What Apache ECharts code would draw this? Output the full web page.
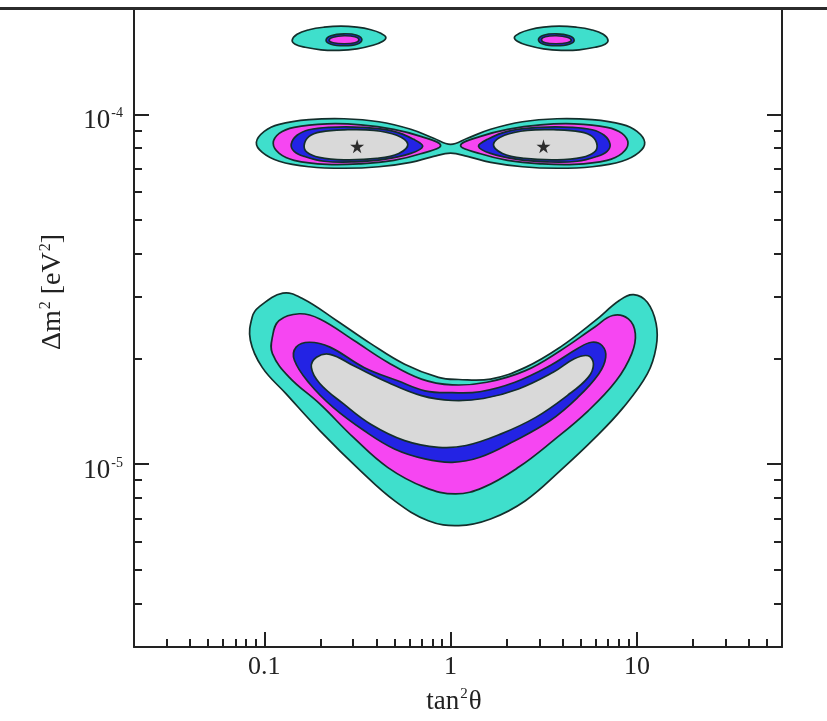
<!DOCTYPE html>
<html><head><meta charset="utf-8">
<script src="https://cdn.jsdelivr.net/npm/echarts@6/dist/echarts.min.js"></script>
<style>html,body{margin:0;padding:0;background:#fff}#chart{width:827px;height:721px}</style>
</head><body><div id="chart"></div>
<script>
// ---- axis ranges & ticks ----
const xRange = [0.02, 60];
const yRange = [3e-6, 2e-4];
const xMajorTicks = [0.1, 1, 10];
const xMajorLabels = ['0.1', '1', '10'];
const xMinorTicks = [0.03,0.04,0.05,0.06,0.07,0.08,0.09,0.2,0.3,0.4,0.5,0.6,0.7,0.8,0.9,2,3,4,5,6,7,8,9,20,30,40,50];
const yMajorTicks = [1e-5, 1e-4];
const yMajorExps = ['-5', '-4'];
const yMinorTicks = [4e-6,5e-6,6e-6,7e-6,8e-6,9e-6,2e-5,3e-5,4e-5,5e-5,6e-5,7e-5,8e-5,9e-5];

// ---- best-fit points (tan^2 theta, dm^2) ----
const bestFits = [[0.315, 8.1e-5], [3.15, 8.1e-5]];

// ---- contour boundaries: [tan^2 theta, dm^2 (eV^2)] ----
// upper islands
const islandL_3s = [[0.1412,1.628e-4],[0.150,1.694e-4],[0.174,1.745e-4],[0.2094,1.774e-4],[0.258,1.786e-4],[0.314,1.774e-4],[0.3734,1.745e-4],[0.4223,1.705e-4],[0.449,1.661e-4],[0.433,1.618e-4],[0.3827,1.575e-4],[0.314,1.539e-4],[0.252,1.524e-4],[0.2018,1.529e-4],[0.1657,1.555e-4],[0.1465,1.586e-4]];
const islandR_3s = [[6.99,1.628e-4],[6.59,1.694e-4],[5.68,1.745e-4],[4.72,1.774e-4],[3.83,1.786e-4],[3.15,1.774e-4],[2.65,1.745e-4],[2.34,1.705e-4],[2.20,1.661e-4],[2.28,1.618e-4],[2.58,1.575e-4],[3.15,1.539e-4],[3.92,1.524e-4],[4.90,1.529e-4],[5.96,1.555e-4],[6.74,1.586e-4]];
const islandL_95 = [[0.2146,1.628e-4],[0.228,1.677e-4],[0.268,1.699e-4],[0.314,1.683e-4],[0.334,1.634e-4],[0.314,1.586e-4],[0.268,1.570e-4],[0.228,1.586e-4]];
const islandR_95 = [[4.60,1.628e-4],[4.33,1.677e-4],[3.69,1.699e-4],[3.15,1.683e-4],[2.96,1.634e-4],[3.15,1.586e-4],[3.69,1.570e-4],[4.33,1.586e-4]];
const islandL_99 = [[0.2227,1.628e-4],[0.234,1.661e-4],[0.268,1.677e-4],[0.3067,1.666e-4],[0.3222,1.634e-4],[0.3067,1.602e-4],[0.268,1.591e-4],[0.234,1.602e-4]];
const islandR_99 = [[4.44,1.628e-4],[4.22,1.661e-4],[3.69,1.677e-4],[3.22,1.666e-4],[3.07,1.634e-4],[3.22,1.602e-4],[3.69,1.591e-4],[4.22,1.602e-4]];

// middle (LMA) band
const band_3s = [[0.0907,8.32e-5],[0.100,8.94e-5],[0.1203,9.36e-5],[0.174,9.65e-5],[0.268,9.71e-5],[0.412,9.52e-5],[0.611,9.06e-5],[0.811,8.54e-5],[1.0,8.2e-5],[1.23,8.54e-5],[1.64,9.06e-5],[2.43,9.52e-5],[3.73,9.71e-5],[5.75,9.65e-5],[8.31,9.36e-5],[10.0,8.94e-5],[11.0,8.32e-5],[10.25,7.78e-5],[8.31,7.34e-5],[5.75,7.08e-5],[3.73,7.01e-5],[2.43,7.08e-5],[1.64,7.29e-5],[1.23,7.58e-5],[1.0,7.74e-5],[0.811,7.58e-5],[0.611,7.29e-5],[0.412,7.08e-5],[0.268,7.01e-5],[0.174,7.08e-5],[0.1203,7.34e-5],[0.0976,7.78e-5]];
const bandL_99 = [[0.1117,8.26e-5],[0.1203,8.82e-5],[0.1447,9.18e-5],[0.2173,9.39e-5],[0.330,9.33e-5],[0.4955,9.06e-5],[0.691,8.65e-5],[0.884,8.15e-5],[0.691,7.71e-5],[0.4955,7.385e-5],[0.330,7.22e-5],[0.2173,7.19e-5],[0.1447,7.385e-5],[0.1203,7.73e-5]];
const bandR_99 = [[8.95,8.26e-5],[8.31,8.82e-5],[6.91,9.18e-5],[4.60,9.39e-5],[3.03,9.33e-5],[2.02,9.06e-5],[1.447,8.65e-5],[1.131,8.15e-5],[1.447,7.71e-5],[2.02,7.385e-5],[3.03,7.22e-5],[4.60,7.19e-5],[6.91,7.385e-5],[8.31,7.73e-5]];
const bandL_95 = [[0.1395,8.21e-5],[0.150,8.71e-5],[0.174,9.03e-5],[0.2227,9.18e-5],[0.330,9.18e-5],[0.4955,8.94e-5],[0.634,8.48e-5],[0.708,8.10e-5],[0.611,7.73e-5],[0.438,7.43e-5],[0.303,7.31e-5],[0.2094,7.34e-5],[0.1637,7.58e-5],[0.1447,7.84e-5]];
const bandR_95 = [[7.17,8.21e-5],[6.67,8.71e-5],[5.75,9.03e-5],[4.49,9.18e-5],[3.03,9.18e-5],[2.02,8.94e-5],[1.577,8.48e-5],[1.412,8.10e-5],[1.637,7.73e-5],[2.28,7.43e-5],[3.30,7.31e-5],[4.78,7.34e-5],[6.11,7.58e-5],[6.91,7.84e-5]];
const bandL_90 = [[0.1637,8.15e-5],[0.174,8.65e-5],[0.2018,8.91e-5],[0.268,9.03e-5],[0.3875,9.00e-5],[0.514,8.71e-5],[0.589,8.21e-5],[0.527,7.73e-5],[0.402,7.48e-5],[0.268,7.41e-5],[0.197,7.53e-5],[0.170,7.78e-5]];
const bandR_90 = [[6.11,8.15e-5],[5.75,8.65e-5],[4.96,8.91e-5],[3.73,9.03e-5],[2.58,9.00e-5],[1.946,8.71e-5],[1.698,8.21e-5],[1.898,7.73e-5],[2.49,7.48e-5],[3.73,7.41e-5],[5.08,7.53e-5],[5.88,7.78e-5]];

// lower (LOW-like) boomerang
const low_3s = [[0.0935,2.81e-5],[0.1258,3.08e-5],[0.1611,2.97e-5],[0.2452,2.57e-5],[0.3726,2.21e-5],[0.5666,1.93e-5],[0.8603,1.77e-5],[1.105,1.745e-5],[1.639,1.75e-5],[2.520,1.89e-5],[3.877,2.16e-5],[5.966,2.57e-5],[8.068,2.94e-5],[9.598,3.05e-5],[11.36,2.90e-5],[12.67,2.52e-5],[12.67,2.16e-5],[11.36,1.81e-5],[8.43,1.45e-5],[5.966,1.19e-5],[3.877,9.58e-6],[2.520,7.86e-6],[1.639,6.97e-6],[1.105,6.67e-6],[0.7587,6.89e-6],[0.4993,7.86e-6],[0.3277,9.58e-6],[0.1986,1.247e-5],[0.1307,1.59e-5],[0.0975,1.89e-5],[0.0842,2.26e-5],[0.0861,2.63e-5]];
const low_99 = [[0.1106,2.31e-5],[0.1199,2.57e-5],[0.1542,2.69e-5],[0.1986,2.60e-5],[0.3018,2.26e-5],[0.4589,1.956e-5],[0.6970,1.75e-5],[1.021,1.685e-5],[1.564,1.714e-5],[2.520,1.85e-5],[3.877,2.11e-5],[5.966,2.47e-5],[7.406,2.66e-5],[8.989,2.60e-5],[9.797,2.36e-5],[9.376,2.07e-5],[7.730,1.73e-5],[5.472,1.42e-5],[3.551,1.167e-5],[2.312,9.79e-6],[1.499,8.58e-6],[1.063,8.22e-6],[0.7273,8.58e-6],[0.4589,9.79e-6],[0.3018,1.19e-5],[0.1986,1.486e-5],[0.1363,1.77e-5],[0.1106,2.07e-5]];
const low_95 = [[0.1452,1.98e-5],[0.1483,2.16e-5],[0.1749,2.23e-5],[0.2253,2.16e-5],[0.3428,1.89e-5],[0.5202,1.73e-5],[0.7273,1.62e-5],[1.021,1.60e-5],[1.435,1.61e-5],[2.214,1.714e-5],[3.407,1.91e-5],[4.803,2.14e-5],[5.714,2.23e-5],[6.507,2.18e-5],[6.794,2.02e-5],[6.230,1.81e-5],[4.803,1.55e-5],[3.407,1.33e-5],[2.214,1.167e-5],[1.435,1.046e-5],[1.021,1.012e-5],[0.7273,1.035e-5],[0.4993,1.105e-5],[0.3428,1.247e-5],[0.2352,1.45e-5],[0.1749,1.70e-5]];
const low_90 = [[0.1789,1.89e-5],[0.1907,2.02e-5],[0.2253,2.06e-5],[0.3018,1.91e-5],[0.4589,1.714e-5],[0.6970,1.57e-5],[1.021,1.52e-5],[1.499,1.54e-5],[2.312,1.64e-5],[3.551,1.83e-5],[4.609,2.00e-5],[5.472,2.04e-5],[5.840,1.93e-5],[5.472,1.77e-5],[4.226,1.57e-5],[2.862,1.36e-5],[1.866,1.22e-5],[1.211,1.13e-5],[0.8603,1.117e-5],[0.5666,1.167e-5],[0.3726,1.30e-5],[0.2665,1.486e-5],[0.1986,1.70e-5]];

// ---- styling ----
const C3s = '#3fdfcc', C99 = '#f646f2', C95 = '#2323e4', C90 = '#d9d9d9';
const OUTLINE = '#142e2b';
const SERIF = "'Liberation Serif','DejaVu Serif',serif";

const layers = [
  {pts: islandL_3s, color: C3s}, {pts: islandR_3s, color: C3s},
  {pts: islandL_95, color: C95}, {pts: islandR_95, color: C95},
  {pts: islandL_99, color: C99}, {pts: islandR_99, color: C99},
  {pts: band_3s, color: C3s},
  {pts: bandL_99, color: C99}, {pts: bandR_99, color: C99},
  {pts: bandL_95, color: C95}, {pts: bandR_95, color: C95},
  {pts: bandL_90, color: C90}, {pts: bandR_90, color: C90},
  {pts: low_3s, color: C3s}, {pts: low_99, color: C99},
  {pts: low_95, color: C95}, {pts: low_90, color: C90}
];

const chart = echarts.init(document.getElementById('chart'), null, {renderer: 'canvas'});

const tickLine = {color: '#222', width: 2};
function baseLog(extra) {
  return Object.assign({type: 'log', logBase: 10, splitLine: {show: false}, minorTick: {show: false}, minorSplitLine: {show: false}}, extra);
}
const subRich = {fontSize: 16, lineHeight: 16, padding: [0, 0, 14, 1], fontFamily: SERIF, color: '#222'};
function nearest(list, v) {
  let best = 0;
  list.forEach((t, i) => { if (Math.abs(Math.log10(t / v)) < Math.abs(Math.log10(list[best] / v))) best = i; });
  return Math.abs(Math.log10(list[best] / v)) < 0.01 ? best : -1;
}

const option = {
  animation: false,
  backgroundColor: '#fff',
  grid: {left: 134, right: 45, top: 9, bottom: 74, containLabel: false, outerBoundsMode: 'none'},
  graphic: [{type: 'line', shape: {x1: 0, y1: 8.5, x2: 827, y2: 8.5}, style: {stroke: '#2b2b2b', lineWidth: 3}, z: 100}],
  xAxis: [
    baseLog({min: xRange[0], max: xRange[1], position: 'bottom',
      axisLine: {show: true, lineStyle: tickLine},
      axisTick: {show: true, inside: true, length: 15, customValues: xMajorTicks, lineStyle: tickLine},
      axisLabel: {show: true, customValues: xMajorTicks, margin: 7, fontSize: 26, color: '#222', fontFamily: SERIF,
        formatter: function (v) { const i = nearest(xMajorTicks, v); return i < 0 ? '' : xMajorLabels[i]; }},
      name: 'tan{s|2}θ', nameLocation: 'middle', nameGap: 41,
      nameTextStyle: {fontSize: 27, color: '#222', fontFamily: SERIF, padding: [0, 8, 0, 0],
        rich: {s: {fontSize: 15, lineHeight: 15, padding: [0, 1, 14, 1], fontFamily: SERIF, color: '#222'}}}
    }),
    baseLog({min: xRange[0], max: xRange[1], position: 'bottom',
      axisLine: {show: false},
      axisTick: {show: true, inside: true, length: 8, customValues: xMinorTicks, lineStyle: tickLine},
      axisLabel: {show: false}
    })
  ],
  yAxis: [
    baseLog({min: yRange[0], max: yRange[1], position: 'left',
      axisLine: {show: true, lineStyle: tickLine},
      axisTick: {show: true, inside: true, length: 15, customValues: yMajorTicks, lineStyle: tickLine},
      axisLabel: {show: true, customValues: yMajorTicks, margin: 11, color: '#222', fontFamily: SERIF, fontSize: 27,
        padding: [14, 0, 0, 0],
        formatter: function (v) { const i = nearest(yMajorTicks, v); return i < 0 ? '' : '{b|10}{s|' + yMajorExps[i] + '}'; },
        rich: {b: {fontSize: 27, lineHeight: 28, fontFamily: SERIF, color: '#222'}, s: {fontSize: 14, lineHeight: 14, padding: [0, 0, 15, 1], fontFamily: SERIF, color: '#222'}}
      },
      name: 'Δm{s|2} [eV{s|2}]', nameLocation: 'middle', nameGap: 67,
      nameTextStyle: {fontSize: 28, color: '#222', fontFamily: SERIF, padding: [0, 0, 0, 72], rich: {s: subRich}}
    }),
    baseLog({min: yRange[0], max: yRange[1], position: 'left',
      axisLine: {show: false},
      axisTick: {show: true, inside: true, length: 8, customValues: yMinorTicks, lineStyle: tickLine},
      axisLabel: {show: false}
    }),
    baseLog({min: yRange[0], max: yRange[1], position: 'right',
      axisLine: {show: true, lineStyle: tickLine},
      axisTick: {show: true, inside: true, length: 15, customValues: yMajorTicks, lineStyle: tickLine},
      axisLabel: {show: false}
    }),
    baseLog({min: yRange[0], max: yRange[1], position: 'right',
      axisLine: {show: false},
      axisTick: {show: true, inside: true, length: 8, customValues: yMinorTicks, lineStyle: tickLine},
      axisLabel: {show: false}
    })
  ],
  series: [
    {
      type: 'custom', xAxisIndex: 0, yAxisIndex: 0, clip: true,
      data: layers.map(l => l.pts[0]),
      encode: {x: 0, y: 1},
      renderItem: function (params, api) {
        const layer = layers[params.dataIndex];
        const points = layer.pts.map(p => api.coord(p));
        return {type: 'polygon', shape: {points: points, smooth: 0.4},
          style: {fill: layer.color, stroke: OUTLINE, lineWidth: 1.7}};
      },
      silent: true, z: 2
    },
    {
      type: 'scatter', xAxisIndex: 0, yAxisIndex: 0, data: bestFits,
      symbol: 'path://M50,0 L61,35 L98,35 L68,57 L79,91 L50,70 L21,91 L32,57 L2,35 L39,35 Z',
      symbolSize: 14, itemStyle: {color: '#000'}, z: 5, silent: true
    }
  ]
};
chart.setOption(option);
</script></body></html>
